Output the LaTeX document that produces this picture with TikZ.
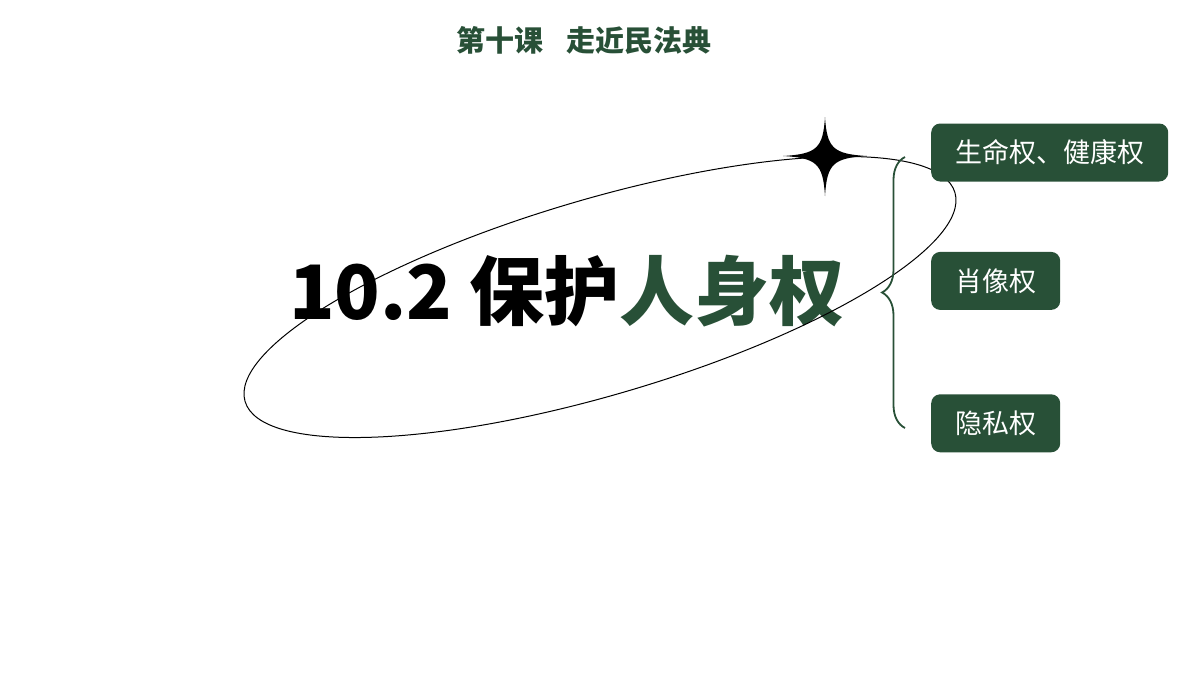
\documentclass[tikz,border=0pt]{standalone}
\usepackage{fontspec}
\newfontfamily\cjk{Noto Sans CJK SC}
\usetikzlibrary{positioning,decorations.pathreplacing}
\definecolor{pine}{RGB}{40,80,55}

\begin{document}
\begin{tikzpicture}[x=1pt,y=-1pt,
  tag/.style={fill=pine,text=white,rounded corners=9pt,minimum height=58pt,inner xsep=24pt,font=\cjk\fontsize{27}{30}\selectfont}]
\useasboundingbox (0,0) rectangle (1200,675);
\node[text=pine,font=\cjk\bfseries\fontsize{29}{32}\selectfont] (head) at (584,40) {第十课\hspace{0.8em}走近民法典};
\node[font=\cjk\bfseries\fontsize{75}{80}\selectfont] (title) at (567,291) {10.2 保护\textcolor{pine}{人身权}};
\draw[line width=1pt,rotate around={16.4:(600,297)}] (600,297) ellipse [x radius=370,y radius=98];
\fill (825,117) .. controls (827,148) and (833,154) .. (867,156) .. controls (833,158) and (827,164) .. (825,196)
  .. controls (823,164) and (817,158) .. (783,156) .. controls (817,154) and (823,148) .. cycle;
\node[tag,anchor=west] (life) at (931,152.5) {生命权、健康权};
\node[tag,below=70pt of life.south west,anchor=north west] (image) {肖像权};
\node[tag,below=84pt of image.south west,anchor=north west] (privacy) {隐私权};
\coordinate (btop) at (905,157);
\coordinate (bbot) at (905,428);
\draw[pine,line width=1.8pt,decorate,decoration={brace,amplitude=23pt}] (bbot) -- (btop);
\end{tikzpicture}
\end{document}
